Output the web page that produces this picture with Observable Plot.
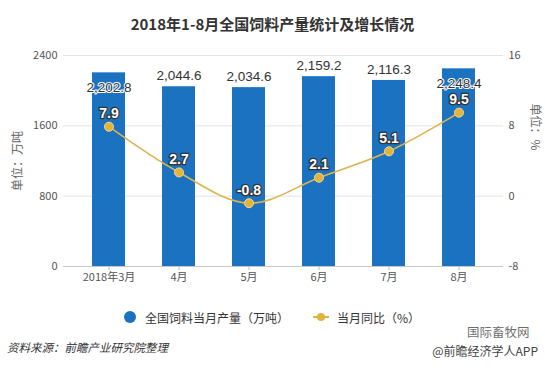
<!DOCTYPE html>
<html>
<head>
<meta charset="utf-8">
<script src="https://cdn.jsdelivr.net/npm/d3@7"></script>
<script src="https://cdn.jsdelivr.net/npm/@observablehq/plot@0.6"></script>
<style>
  html, body { margin: 0; padding: 0; background: #fff; }
  #wrap { position: relative; width: 545px; height: 368px; overflow: hidden; font-family: "Noto Sans CJK SC", "Noto Sans", sans-serif; }
  #title { position: absolute; top: 13px; left: 0; width: 545px; text-align: center; font-size: 15px; font-weight: bold; color: #333; line-height: 22px; }
  #chart { position: absolute; top: 40px; left: 0; }
  .ytitle { position: absolute; font-size: 12px; color: #666; white-space: nowrap; line-height: 14px; }
  #legend { position: absolute; top: 308px; left: 0; width: 545px; height: 18px; display: flex; justify-content: center; align-items: center; font-size: 12px; color: #333; }
  #legend .item { display: flex; align-items: center; }
  #caption { position: absolute; top: 338px; left: 7px; font-size: 11.5px; font-style: italic; color: #333; line-height: 18px; }
  #brand { position: absolute; top: 343px; right: 7px; font-size: 12px; color: #444; line-height: 15px; }
  #brand2 { position: absolute; top: 325px; left: 467px; font-size: 12.5px; color: #555; line-height: 14px; opacity: 0.85; }
</style>
</head>
<body>
<div id="wrap">
  <div id="title">2018年1-8月全国饲料产量统计及增长情况</div>
  <div id="chart"></div>
  <div class="ytitle" id="ylt">单位：万吨</div>
  <div class="ytitle" id="yrt">单位：%</div>
  <div id="legend"></div>
  <div id="caption">资料来源：前瞻产业研究院整理</div>
  <div id="brand2">国际畜牧网</div>
  <div id="brand">@前瞻经济学人APP</div>
</div>
<script>
const months = ["2018年3月", "4月", "5月", "6月", "7月", "8月"];
const output = [2202.8, 2044.6, 2034.6, 2159.2, 2116.3, 2248.4];
const yoy = [7.9, 2.7, -0.8, 2.1, 5.1, 9.5];
const leftTicks = [0, 800, 1600, 2400];
const rightTicks = [-8, 0, 8, 16];
const seriesNames = ["全国饲料当月产量（万吨）", "当月同比（%）"];
const axisTitles = ["单位：万吨", "单位：%"];

const barColor = "#1b72c0";
const lineColor = "#dcb550";
const dotColor = "#e3b33b";

const data = months.map((m, i) => ({ month: months[i], output: output[i], yoy: yoy[i] }));

// map right-axis (percent) values onto the left scale's domain
const rMin = rightTicks[0], rMax = rightTicks[rightTicks.length - 1];
const lMin = leftTicks[0], lMax = leftTicks[leftTicks.length - 1];
const toLeft = p => lMin + (p - rMin) / (rMax - rMin) * (lMax - lMin);

const fmt = d3.format(",.1f");
const font = "Liberation Sans, Arial, sans-serif";

const chart = Plot.plot({
  width: 545,
  height: 260,
  marginLeft: 63,
  marginRight: 42,
  marginTop: 15,
  marginBottom: 34,
  style: { fontFamily: "Noto Sans CJK SC, sans-serif", background: "transparent" },
  x: { domain: months, paddingInner: 0.53, paddingOuter: 0.4 },
  y: { domain: [lMin, lMax] },
  marks: [
    Plot.gridY(leftTicks, { stroke: "#e3e3e3", strokeOpacity: 1 }),
    Plot.axisY(leftTicks, { anchor: "left", tickSize: 0, tickPadding: 6, fontSize: 11, fill: "#555", label: null,
      tickFormat: d => String(d) }),
    Plot.axisY(leftTicks, { anchor: "right", tickSize: 0, tickPadding: 5, fontSize: 11, fill: "#555", label: null,
      tickFormat: d => String(rightTicks[leftTicks.indexOf(d)]) }),
    Plot.barY(data, { x: "month", y: "output", fill: barColor }),
    Plot.ruleY([0], { stroke: "#c8c8c8" }),
    Plot.axisX({ tickSize: 4, stroke: "#bbb", fill: "#555", fontSize: 11, tickPadding: 3, label: null }),
    Plot.text(data.filter(d => d.output < 2200), { x: "month", y: "output", text: d => fmt(d.output), dy: -11,
      fill: "#333", stroke: "white", strokeWidth: 2, fontSize: 13.5, fontFamily: font }),
    Plot.text(data.filter(d => d.output >= 2200), { x: "month", y: "output", text: d => fmt(d.output), dy: 15,
      fill: "#333", stroke: "white", strokeWidth: 2, fontSize: 13.5, fontFamily: font }),
    Plot.line(data, { x: "month", y: d => toLeft(d.yoy), stroke: lineColor, strokeWidth: 1.6, curve: "catmull-rom" }),
    Plot.dot(data, { x: "month", y: d => toLeft(d.yoy), r: 4.5, fill: dotColor, stroke: "#f3dc98", strokeWidth: 1 }),
    Plot.text(data, { x: "month", y: d => toLeft(d.yoy), text: d => String(d.yoy), dy: -13,
      fill: "white", stroke: "#333", strokeWidth: 2.5, fontSize: 14, fontWeight: "bold", fontFamily: font })
  ]
});
document.getElementById("chart").appendChild(chart);

// axis titles
const ylt = document.getElementById("ylt");
ylt.textContent = axisTitles[0];
ylt.style.left = (17 - 30) + "px";
ylt.style.top = (161 - 7) + "px";
ylt.style.width = "60px";
ylt.style.textAlign = "center";
ylt.style.transform = "rotate(-90deg)";
const yrt = document.getElementById("yrt");
yrt.textContent = axisTitles[1];
yrt.style.left = (536 - 30) + "px";
yrt.style.top = (127 - 7) + "px";
yrt.style.width = "60px";
yrt.style.textAlign = "center";
yrt.style.transform = "rotate(90deg)";

// legend
const legend = document.getElementById("legend");
legend.innerHTML = `
  <div class="item" style="margin-left:-2px">
    <svg width="14" height="14"><circle cx="7" cy="7" r="6" fill="${barColor}"></circle></svg>
    <span style="margin-left:8px">${seriesNames[0]}</span>
  </div>
  <div class="item" style="margin-left:24px">
    <svg width="16" height="14"><line x1="0" x2="16" y1="7" y2="7" stroke="${lineColor}" stroke-width="2"></line><circle cx="8" cy="7" r="4" fill="${dotColor}"></circle></svg>
    <span style="margin-left:8px">${seriesNames[1]}</span>
  </div>`;
</script>
</body>
</html>
